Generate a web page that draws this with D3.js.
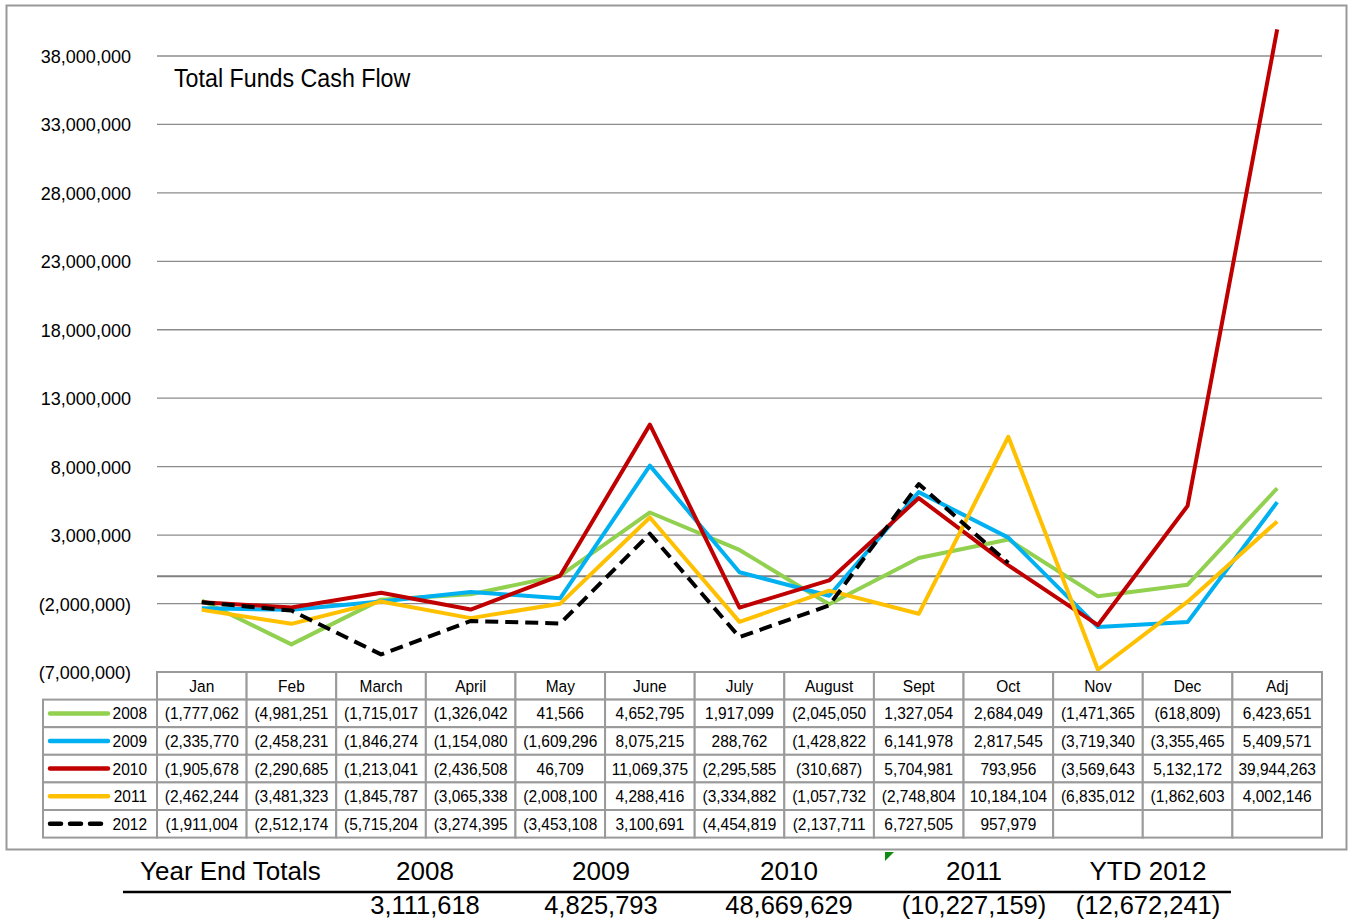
<!DOCTYPE html>
<html><head><meta charset="utf-8">
<script src="https://cdn.jsdelivr.net/npm/d3@7"></script>
<style>body{margin:0;background:#fff}svg{display:block}</style>
</head><body>
<script>
const categories = ["Jan","Feb","March","April","May","June","July","August","Sept","Oct","Nov","Dec","Adj"];
const years = ["2008","2009","2010","2011","2012"];
const s2008 = [-1777062,-4981251,-1715017,-1326042,41566,4652795,1917099,-2045050,1327054,2684049,-1471365,-618809,6423651];
const s2009 = [-2335770,-2458231,-1846274,-1154080,-1609296,8075215,288762,-1428822,6141978,2817545,-3719340,-3355465,5409571];
const s2010 = [-1905678,-2290685,-1213041,-2436508,46709,11069375,-2295585,-310687,5704981,793956,-3569643,5132172,39944263];
const s2011 = [-2462244,-3481323,-1845787,-3065338,-2008100,4288416,-3334882,-1057732,-2748804,10184104,-6835012,-1862603,4002146];
const s2012 = [-1911004,-2512174,-5715204,-3274395,-3453108,3100691,-4454819,-2137711,6727505,957979,null,null,null];
const yTicks = [-7000000,-2000000,3000000,8000000,13000000,18000000,23000000,28000000,33000000,38000000];
const totalLabels = ["2008","2009","2010","2011","YTD 2012"];
const totals = [3111618,4825793,48669629,-10227159,-12672241];
const colors = ["#92D050","#00B0F0","#C00000","#FFC000","#000000"];
const seriesList = [s2008,s2009,s2010,s2011,s2012];

const W=1349,H=924;
const FONT = "'Liberation Sans Narrow','Arial Narrow','Liberation Sans',Arial,sans-serif";
const svg = d3.select("body").append("svg").attr("width",W).attr("height",H).style("font-family",FONT);

// condense text horizontally (narrow font look)
function cond(sel, sx){
  sel.each(function(){
    const t=d3.select(this);
    const xx=+t.attr("x")||0, yy=+t.attr("y")||0;
    t.attr("x",0).attr("y",0).attr("transform",`translate(${xx},${yy}) scale(${sx},1)`);
  });
}

// outer frame
svg.append("rect").attr("x",6.5).attr("y",5.5).attr("width",1340).attr("height",844)
  .attr("fill","#fff").attr("stroke","#999").attr("stroke-width",2);

const x = d3.scaleBand().domain(categories).range([157,1322]).padding(0);
const y = d3.scaleLinear().domain([-7000000,40000000]).range([672,28.6]);
const cx = c => x(c)+x.bandwidth()/2;

const fmtNum = d3.format(",");
function cellText(v){
  if(v==null) return "";
  if(v<0){ let s="("+fmtNum(-v)+")"; return s.length>10 ? s.slice(0,-1) : s; }
  return fmtNum(v);
}
function totText(v){ return v<0 ? "("+fmtNum(-v)+")" : fmtNum(v); }

// gridlines
svg.append("g").selectAll("line").data(yTicks.filter(t=>t>-7000000)).join("line")
  .attr("x1",157).attr("x2",1322).attr("y1",d=>y(d)).attr("y2",d=>y(d))
  .attr("stroke","#8c8c8c").attr("stroke-width",1.3);
// zero line
svg.append("line").attr("x1",157).attr("x2",1322).attr("y1",y(0)).attr("y2",y(0))
  .attr("stroke","#808080").attr("stroke-width",2);

// y axis labels
svg.append("g").selectAll("text").data(yTicks).join("text")
  .attr("x",131).attr("y",d=>y(d)+7).attr("text-anchor","end").attr("font-size",19)
  .text(d=> d<0 ? "("+fmtNum(-d)+")" : fmtNum(d))
  .call(cond,0.95);

// title
svg.append("text").attr("x",174).attr("y",87).attr("font-size",25).attr("fill","#000")
  .text("Total Funds Cash Flow").call(cond,0.93);

// lines
const line = d3.line().defined(d=>d.v!=null).x(d=>cx(d.c)).y(d=>y(d.v));
seriesList.forEach((s,i)=>{
  const data = categories.map((c,j)=>({c, v:s[j]}));
  svg.append("path").datum(data).attr("d",line).attr("fill","none")
    .attr("stroke",colors[i]).attr("stroke-width",4).attr("stroke-linejoin","round")
    .attr("stroke-dasharray", i===4 ? "13,7" : null);
});

// data table
const tbl = svg.append("g");
const rowTop = 672, rowH = 27.6;
const gridC = "#9a9a9a";
const TS = 0.91;
tbl.selectAll("rect.h").data(categories).join("rect")
  .attr("x",d=>x(d)).attr("y",rowTop).attr("width",x.bandwidth()).attr("height",rowH)
  .attr("fill","#fff").attr("stroke",gridC).attr("stroke-width",2);
tbl.selectAll("text.h").data(categories).join("text")
  .attr("x",d=>cx(d)).attr("y",rowTop+rowH/2+6).attr("text-anchor","middle")
  .attr("font-size",17).text(d=>d).call(cond,TS);
years.forEach((yr,i)=>{
  const top = rowTop + rowH*(i+1);
  tbl.append("rect").attr("x",43).attr("y",top).attr("width",114).attr("height",rowH)
    .attr("fill","#fff").attr("stroke",gridC).attr("stroke-width",2);
  tbl.append("line").attr("x1",50).attr("x2",108).attr("y1",top+rowH/2).attr("y2",top+rowH/2)
    .attr("stroke",colors[i]).attr("stroke-width",4.5).attr("stroke-linecap","round")
    .attr("stroke-dasharray", i===4 ? "11,9" : null);
  tbl.append("text").attr("x",147).attr("y",top+rowH/2+6).attr("text-anchor","end")
    .attr("font-size",17).text(yr).call(cond,TS);
  tbl.selectAll(null).data(categories).join("rect")
    .attr("x",d=>x(d)).attr("y",top).attr("width",x.bandwidth()).attr("height",rowH)
    .attr("fill","#fff").attr("stroke",gridC).attr("stroke-width",2);
  tbl.selectAll(null).data(categories).join("text")
    .attr("x",d=>cx(d)).attr("y",top+rowH/2+6).attr("text-anchor","middle")
    .attr("font-size",17).text((d,j)=>cellText(seriesList[i][j])).call(cond,TS);
});

// comment marker
svg.append("path").attr("d","M885,852 L894,852 L885,861 Z").attr("fill","#118a11");

// year end totals
const tx = [425,601,789,974,1148];
svg.append("text").attr("x",140).attr("y",880).attr("font-size",26).text("Year End Totals").call(cond,1.0);
svg.selectAll("text.tl").data(totalLabels).join("text")
  .attr("x",(d,i)=>tx[i]).attr("y",880).attr("text-anchor","middle").attr("font-size",26).text(d=>d);
svg.append("line").attr("x1",123).attr("x2",1231).attr("y1",892).attr("y2",892)
  .attr("stroke","#000").attr("stroke-width",2.5);
svg.selectAll("text.tv").data(totals).join("text")
  .attr("x",(d,i)=>tx[i]).attr("y",914).attr("text-anchor","middle").attr("font-size",26).text(d=>totText(d))
  .call(cond,0.98);
</script>
</body></html>
